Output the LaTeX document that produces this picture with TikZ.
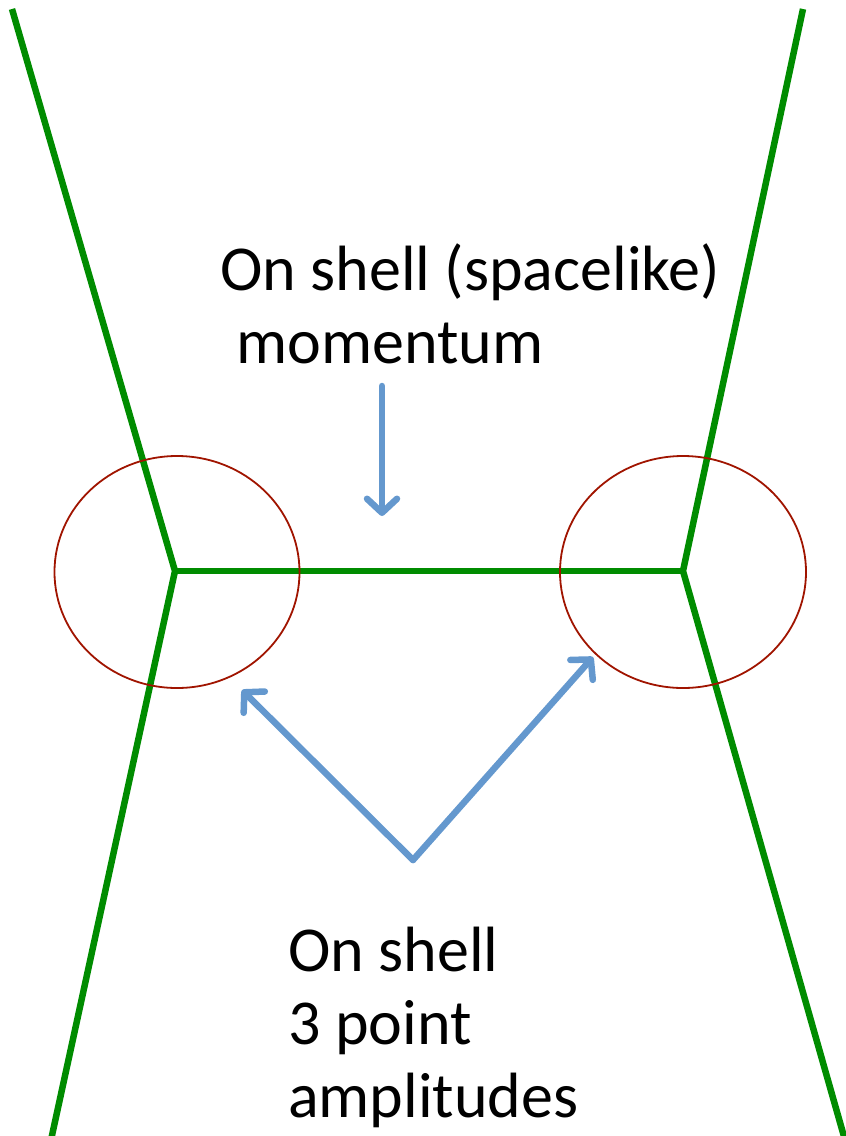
\documentclass[tikz,border=0pt]{standalone}
\usepackage{fontspec}
\setmainfont{Carlito}
\usetikzlibrary{arrows.meta,shapes.geometric}
\definecolor{lgreen}{RGB}{0,140,0}
\definecolor{dred}{RGB}{160,20,0}
\definecolor{lblue}{RGB}{100,152,206}
\tikzset{
  gline/.style={draw=lgreen, line width=6.5pt, line join=miter},
  ring/.style={draw=dred, line width=1.8pt},
  barrow/.style={draw=lblue, line width=6.5pt, line cap=round, line join=round,
    -{Straight Barb[length=14pt, width=30pt, round]}},
  lbl/.style={anchor=base west, inner sep=0pt, font=\fontsize{64}{76}\selectfont},
}
\begin{document}
\begin{tikzpicture}[x=1pt, y=-1pt]
\useasboundingbox (0,0) rectangle (846,1136);
% vertices
\coordinate (vl) at (175,571);
\coordinate (vr) at (683,571);
\coordinate (tl) at (12,9);
\coordinate (bl) at (51,1140);
\coordinate (tr) at (803,9);
\coordinate (br) at (845,1140);
\draw[gline] (tl) -- (vl) -- (bl);
\draw[gline] (tr) -- (vr) -- (br);
\draw[gline] (vl) -- (vr);
% circles
\node[ring, ellipse, minimum width=245pt, minimum height=232pt, inner sep=0pt] (cl) at (177,572) {};
\node[ring, ellipse, minimum width=246pt, minimum height=232pt, inner sep=0pt] (cr) at (683,572) {};
% labels
\node[lbl] (t1) at (220,290) {On shell (spacelike)};
\node[lbl] (t2) at (236,363) {momentum};
\node[lbl] (b1) at (288,971) {On shell};
\node[lbl] (b2) at (288,1044) {3 point};
\node[lbl] (b3) at (288,1117) {amplitudes};
% arrows
\coordinate (a0) at (382,386);
\coordinate (a1) at (382,516);
\draw[barrow] (a0) -- (a1);
\coordinate (apex) at (413,860);
\coordinate (tipl) at (242,690);
\coordinate (tipr) at (593,657);
\draw[barrow] (apex) -- (tipl);
\draw[barrow] (apex) -- (tipr);
\end{tikzpicture}
\end{document}
